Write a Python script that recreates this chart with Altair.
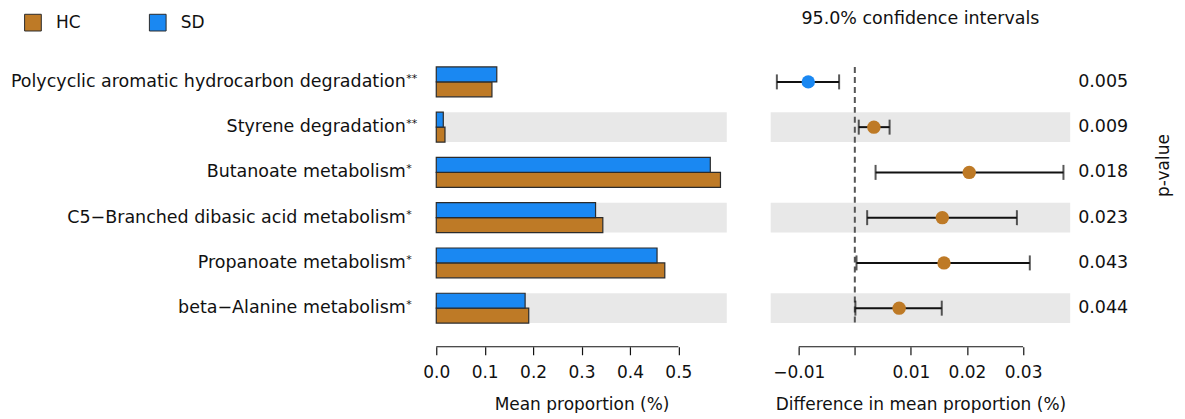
import altair as alt
import pandas as pd

# ---------------- data ----------------
pathways = [
    "Polycyclic aromatic hydrocarbon degradation",
    "Styrene degradation",
    "Butanoate metabolism",
    "C5\u2212Branched dibasic acid metabolism",
    "Propanoate metabolism",
    "beta\u2212Alanine metabolism",
]
stars = ["**", "**", "*", "*", "*", "*"]
hc_mean = [0.115, 0.018, 0.587, 0.344, 0.472, 0.191]
sd_mean = [0.125, 0.0145, 0.566, 0.329, 0.456, 0.1835]
diff = [-0.0083, 0.0034, 0.0204, 0.0156, 0.0159, 0.0079]
ci_low = [-0.0139, 0.0007, 0.0037, 0.0022, 0.0003, 0.0001]
ci_high = [-0.0028, 0.0062, 0.0372, 0.0289, 0.0312, 0.0155]
p_values = ["0.005", "0.009", "0.018", "0.023", "0.043", "0.044"]
shaded = [False, True, False, True, False, True]
groups = ["HC", "SD"]
colors = ["#BE7A26", "#1A88F2"]
left_ticks = [0.0, 0.1, 0.2, 0.3, 0.4, 0.5]
right_ticks = [-0.01, 0.0, 0.01, 0.02, 0.03]

rows = pd.DataFrame({
    "pathway": pathways,
    "stars": stars,
    "diff": diff,
    "ci_low": ci_low,
    "ci_high": ci_high,
    "pvalue": p_values,
    "shaded": shaded,
    "enriched": ["SD" if d < 0 else "HC" for d in diff],
})
bars = pd.DataFrame({
    "pathway": pathways * 2,
    "group": ["HC"] * len(pathways) + ["SD"] * len(pathways),
    "value": hc_mean + sd_mean,
})

# ---------------- layout constants ----------------
W1, W2, H = 291, 300, 272
FONT = "DejaVu Sans"
PI, PO = 0.34, 0.17
STEP = H / (len(pathways) - PI + 2 * PO)
AX_OFF = 16
GRAY = "#E8E8E8"
INK = "#111111"

color_scale = alt.Scale(domain=groups, range=colors)


def yenc(axis):
    return alt.Y("pathway:N", sort=pathways,
                 scale=alt.Scale(domain=pathways, paddingInner=PI, paddingOuter=PO),
                 axis=axis)


left_yaxis = alt.Axis(title=None, domain=False, ticks=False, labelFontSize=17.5,
                      labelPadding=31, labelLimit=600, labelColor=INK, labelFont=FONT)

xl = alt.X("value:Q", scale=alt.Scale(domain=[0, 0.6], nice=False, zero=False),
           axis=alt.Axis(values=left_ticks, format=".1f", domain=False, grid=False,
                         offset=AX_OFF, tickSize=8, tickColor=INK, tickWidth=1.2,
                         labelFontSize=17, labelPadding=10, labelColor=INK,
                         labelFlush=False,
                         title="Mean proportion (%)", titleFontSize=17,
                         titleFontWeight="normal", titlePadding=16, titleColor=INK))

base_rows = alt.Chart(rows)

left_bands = base_rows.transform_filter("datum.shaded").mark_rect(color=GRAY).encode(
    y=yenc(left_yaxis), x=alt.value(0), x2=alt.value(W1))

left_bars = alt.Chart(bars).mark_bar(stroke="#2b2b2b", strokeWidth=1.2).encode(
    y=yenc(left_yaxis),
    x=xl,
    yOffset=alt.YOffset("group:N", sort=["SD", "HC"]),
    color=alt.Color("group:N", scale=color_scale,
                    legend=alt.Legend(orient="none", legendX=-413, legendY=-46,
                                      direction="horizontal", title=None,
                                      symbolType="square", symbolSize=280,
                                      symbolStrokeColor="#2b2b2b", symbolStrokeWidth=1,
                                      symbolOpacity=1,
                                      labelFontSize=17, labelFont=FONT, labelColor=INK,
                                      labelOffset=14, columnPadding=66)),
)

left_stars = base_rows.mark_text(align="left", baseline="middle", fontSize=11,
                                 dy=-3, font=FONT, color=INK).encode(
    y=yenc(left_yaxis), x=alt.value(-30), text="stars:N")

left_axisline = base_rows.transform_filter("datum.pathway == '%s'" % pathways[0]).mark_rule(
    color=INK, strokeWidth=1.2).encode(
    x=alt.datum(left_ticks[0]), x2=alt.datum(left_ticks[-1]), y=alt.value(H + AX_OFF))

left = alt.layer(left_bands, left_bars, left_stars, left_axisline).properties(
    width=W1, height=H)

# ---------------- right panel ----------------
right_yaxis = alt.Axis(orient="right", labels=False, ticks=False, domain=False,
                       title="p-value", titleFontSize=17, titleFontWeight="normal",
                       titleColor=INK, titleFont=FONT, titlePadding=102,
                       titleAngle=270, titleY=106)

xr_scale = alt.Scale(domain=[-0.015, 0.0384], nice=False, zero=False)
xr_axis = alt.Axis(values=right_ticks,
                   labelExpr="datum.value == 0 ? '' : format(datum.value, '.2f')",
                   domain=False, grid=False, offset=AX_OFF, tickSize=8, tickColor=INK,
                   tickWidth=1.2, labelFontSize=17, labelPadding=10, labelColor=INK,
                   labelFlush=False,
                   title="Difference in mean proportion (%)", titleFontSize=17,
                   titleFontWeight="normal", titlePadding=16, titleColor=INK)

right_bands = base_rows.transform_filter("datum.shaded").mark_rect(color=GRAY).encode(
    y=yenc(right_yaxis), x=alt.value(0), x2=alt.value(W2))

zero_line = base_rows.transform_filter("datum.pathway == '%s'" % pathways[0]).mark_rule(
    color="#555555", strokeWidth=2, strokeDash=[6, 4]).encode(
    x=alt.X("z:Q", scale=xr_scale, axis=xr_axis),
    y=alt.value(STEP * PO), y2=alt.value(H - STEP * PO)).transform_calculate(z="0")

err = base_rows.mark_rule(color=INK, strokeWidth=2).encode(
    y=yenc(right_yaxis),
    x=alt.X("ci_low:Q", scale=xr_scale, axis=xr_axis), x2="ci_high:Q")

caps = base_rows.transform_fold(["ci_low", "ci_high"], as_=["k", "v"]).mark_tick(
    color=INK, thickness=2, size=15, orient="vertical").encode(
    y=yenc(right_yaxis), x=alt.X("v:Q", scale=xr_scale, axis=xr_axis))

pts = base_rows.mark_circle(size=180, opacity=1).encode(
    y=yenc(right_yaxis), x=alt.X("diff:Q", scale=xr_scale, axis=xr_axis),
    color=alt.Color("enriched:N", scale=color_scale, legend=None))

pv = base_rows.mark_text(align="left", baseline="middle", dx=8, fontSize=17.5,
                         font=FONT, color=INK).encode(
    y=yenc(right_yaxis), x=alt.value(W2), text="pvalue:N")

right_axisline = base_rows.transform_filter("datum.pathway == '%s'" % pathways[0]).mark_rule(
    color=INK, strokeWidth=1.2).encode(
    x=alt.datum(right_ticks[0]), x2=alt.datum(right_ticks[-1]), y=alt.value(H + AX_OFF))

right = alt.layer(right_bands, zero_line, err, caps, pts, pv, right_axisline).properties(
    width=W2, height=H,
    title=alt.TitleParams("95.0% confidence intervals", fontSize=17.5, fontWeight="normal",
                          font=FONT, color=INK, anchor="middle", offset=32),
)

chart = alt.hconcat(left, right, spacing=44).resolve_scale(
    x="independent", y="independent", color="independent"
).properties(padding={"left": 2, "top": 1, "right": 6, "bottom": 0}).configure(
    font=FONT, view=alt.ViewConfig(stroke=None)
)

chart.save("out.html", embed_options={"renderer": "svg", "actions": False})
